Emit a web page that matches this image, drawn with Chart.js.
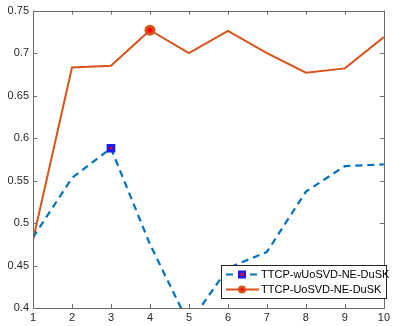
<!DOCTYPE html>
<html lang="en">
<head>
<meta charset="UTF-8">
<title>TTCP chart</title>
<script src="https://cdn.jsdelivr.net/npm/chart.js@4"></script>
<style>
  * { margin: 0; padding: 0; box-sizing: border-box; }
  body { background: #fff; }
  #wrap { width: 393px; height: 326px; }
</style>
</head>
<body>
<div id="wrap"><canvas id="chart" width="393" height="326"></canvas></div>
<script>
// x positions 1..10
const xValues = [1, 2, 3, 4, 5, 6, 7, 8, 9, 10];
const wUoSVD = [0.483, 0.553, 0.588, 0.475, 0.381, 0.447, 0.466, 0.537, 0.567, 0.569];
const UoSVD = [0.480, 0.683, 0.685, 0.727, 0.700, 0.726, 0.700, 0.677, 0.682, 0.719];
const yTicks = [0.4, 0.45, 0.5, 0.55, 0.6, 0.65, 0.7, 0.75];
const seriesNames = ['TTCP-wUoSVD-NE-DuSK', 'TTCP-UoSVD-NE-DuSK'];

const BLUE = '#0072BD';
const ORANGE = '#D95319';
const AXIS = '#6b6b6b';
const FONT = "'Liberation Sans', Arial, sans-serif";

// inner ticks, box and legend drawn like the matlab figure
const matlabAxes = {
  id: 'matlabAxes',
  afterDraw(chart) {
    const { ctx, chartArea: a, scales } = chart;
    ctx.save();
    ctx.strokeStyle = AXIS;
    ctx.lineWidth = 1;
    ctx.beginPath();
    for (const v of xValues) {
      const px = Math.round(scales.x.getPixelForValue(v)) + 0.5;
      ctx.moveTo(px, a.bottom); ctx.lineTo(px, a.bottom - 4);
      ctx.moveTo(px, a.top); ctx.lineTo(px, a.top + 4);
    }
    for (const v of yTicks) {
      const py = Math.round(scales.y.getPixelForValue(v)) + 0.5;
      ctx.moveTo(a.left, py); ctx.lineTo(a.left + 4, py);
      ctx.moveTo(a.right, py); ctx.lineTo(a.right - 4, py);
    }
    ctx.stroke();
    ctx.strokeRect(Math.round(a.left) + 0.5, Math.round(a.top) + 0.5,
      Math.round(a.right - a.left), Math.round(a.bottom - a.top));

    // legend box
    const lx = 221.5, ly = 265.5, lw = 165, lh = 33;
    ctx.fillStyle = '#fff';
    ctx.fillRect(lx, ly, lw, lh);
    ctx.strokeStyle = '#262626';
    ctx.strokeRect(lx, ly, lw, lh);
    const rows = [ly + 9, ly + 24];
    // blue dashed sample
    ctx.lineWidth = 2;
    ctx.strokeStyle = BLUE;
    ctx.setLineDash([7, 5]);
    ctx.beginPath(); ctx.moveTo(226, rows[0]); ctx.lineTo(259, rows[0]); ctx.stroke();
    ctx.setLineDash([]);
    ctx.fillStyle = '#1a1aff';
    ctx.fillRect(238, rows[0] - 4, 8, 8);
    ctx.fillStyle = 'red';
    ctx.fillRect(240.5, rows[0] - 1.5, 3, 3);
    // orange solid sample
    ctx.strokeStyle = ORANGE;
    ctx.beginPath(); ctx.moveTo(226, rows[1]); ctx.lineTo(259, rows[1]); ctx.stroke();
    ctx.fillStyle = ORANGE;
    ctx.beginPath(); ctx.arc(242, rows[1], 4, 0, Math.PI * 2); ctx.fill();
    ctx.fillStyle = 'red';
    ctx.beginPath(); ctx.arc(242, rows[1], 1.5, 0, Math.PI * 2); ctx.fill();

    ctx.fillStyle = '#000';
    ctx.font = '11px ' + FONT;
    ctx.textBaseline = 'middle';
    ctx.fillText(seriesNames[0], 261, rows[0]);
    ctx.fillText(seriesNames[1], 261, rows[1]);
    ctx.restore();
  }
};

new Chart(document.getElementById('chart'), {
  type: 'line',
  data: {
    labels: xValues,
    datasets: [
      {
        label: seriesNames[0],
        data: xValues.map((x, i) => ({ x, y: wUoSVD[i] })),
        borderColor: BLUE, borderWidth: 2.2, borderDash: [7, 5],
        pointStyle: 'rect',
        pointRadius: xValues.map((_, i) => (i === 2 ? 4 : 0)),
        pointBackgroundColor: 'red', pointBorderColor: '#1a1aff', pointBorderWidth: 3,
        tension: 0
      },
      {
        label: seriesNames[1],
        data: xValues.map((x, i) => ({ x, y: UoSVD[i] })),
        borderColor: ORANGE, borderWidth: 2,
        pointStyle: 'circle',
        pointRadius: xValues.map((_, i) => (i === 3 ? 4 : 0)),
        pointBackgroundColor: 'red', pointBorderColor: ORANGE, pointBorderWidth: 3,
        tension: 0
      }
    ]
  },
  options: {
    responsive: false,
    animation: false,
    layout: { padding: { top: 10, right: 6, left: 0, bottom: 0 } },
    plugins: { legend: { display: false }, tooltip: { enabled: false } },
    scales: {
      x: {
        type: 'linear', min: 1, max: 10,
        afterBuildTicks: s => { s.ticks = xValues.map(v => ({ value: v })); },
        afterFit: s => { s.height = 18; },
        grid: { display: false, drawTicks: false },
        border: { display: false },
        ticks: { color: '#262626', font: { size: 11, family: FONT }, padding: 3, maxRotation: 0 }
      },
      y: {
        min: 0.4, max: 0.75,
        afterBuildTicks: s => { s.ticks = yTicks.map(v => ({ value: v })); },
        afterFit: s => { s.width = 33; },
        grid: { display: false, drawTicks: false },
        border: { display: false },
        ticks: {
          color: '#262626', font: { size: 11, family: FONT }, padding: 4,
          callback: v => String(Number(v.toFixed(2)))
        }
      }
    }
  },
  plugins: [matlabAxes]
});
</script>
</body>
</html>
